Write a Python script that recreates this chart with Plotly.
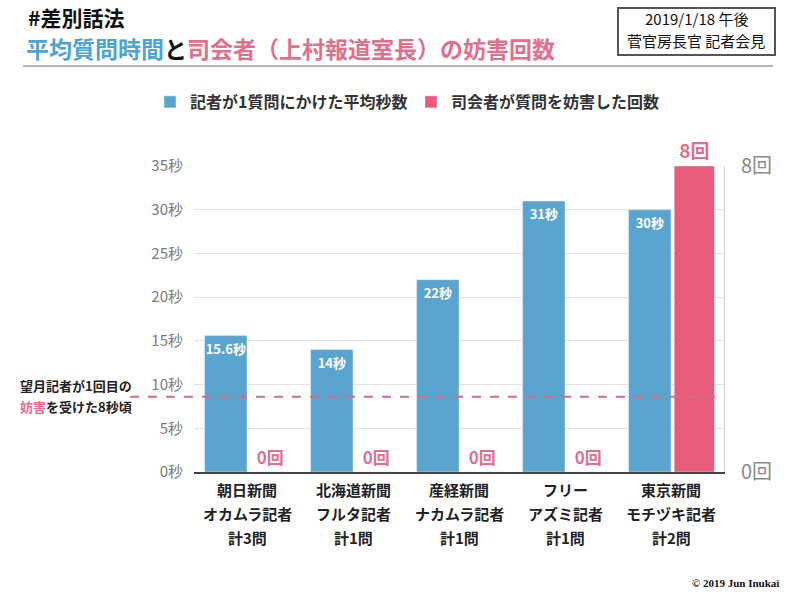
import plotly.graph_objects as go

# ---- data ----
newspapers = ["朝日新聞", "北海道新聞", "産経新聞", "フリー", "東京新聞"]
reporters = ["オカムラ記者", "フルタ記者", "ナカムラ記者", "アズミ記者", "モチヅキ記者"]
question_totals = ["計3問", "計1問", "計1問", "計1問", "計2問"]
avg_seconds = [15.6, 14, 22, 31, 30]
interruptions = [0, 0, 0, 0, 8]
first_interrupt_sec = 8.6

left_ticks = [0, 5, 10, 15, 20, 25, 30, 35]
right_ticks = [0, 8]

FONT = "Noto Sans CJK JP"
BLUE = "#5aa5cf"
PINK = "#e95b7b"
PINK_TXT = "#e0708d"
TITLE_BLUE = "#4fa3d1"

# plot area in pixels
L, R, T, B = 194, 724, 166, 472
W, H = R - L, B - T
def px(x):
    return (x - L) / W
def py(y):
    return (B - y) / H

cats = list(range(len(newspapers)))

fig = go.Figure()
fig.add_trace(go.Bar(
    x=cats, y=avg_seconds, name="<b>記者が1質問にかけた平均秒数</b>",
    marker_color=BLUE, width=0.4, offset=-0.4,
    text=[f"<b>{v}秒</b>" for v in avg_seconds], texttemplate="%{text}",
    textposition="inside", insidetextanchor="end", textangle=0,
    constraintext="none",
    insidetextfont=dict(color="white", size=13, family=FONT),
    yaxis="y", cliponaxis=False,
))
fig.add_trace(go.Bar(
    x=cats, y=interruptions, name="<b>司会者が質問を妨害した回数</b>",
    marker_color=PINK, width=0.38, offset=0.03,
    text=[f"<b>{v}回</b>" for v in interruptions], texttemplate="%{text}",
    textposition="outside", textangle=0, constraintext="none",
    outsidetextfont=dict(color=PINK_TXT, size=[17, 17, 17, 17, 19], family=FONT),
    yaxis="y2", cliponaxis=False,
))

annotations = []
# x category labels (three lines each)
for i in cats:
    for lines, yy in [(newspapers, 489), (reporters, 513), (question_totals, 537)]:
        annotations.append(dict(
            x=i, xref="x", y=py(yy), yref="paper", text=f"<b>{lines[i]}</b>",
            showarrow=False, xanchor="center", yanchor="middle",
            font=dict(family=FONT, size=15, color="#222"),
        ))

# titles
annotations += [
    dict(x=px(27), y=py(17), xref="paper", yref="paper", xanchor="left", yanchor="middle",
         text="<b>#差別話法</b>", showarrow=False, borderpad=0,
         font=dict(family=FONT, size=21, color="#111")),
    dict(x=px(25), y=py(48), xref="paper", yref="paper", xanchor="left", yanchor="middle",
         text=f"<b><span style='color:{TITLE_BLUE}'>平均質問時間</span>と<span style='color:{PINK_TXT}'>司会者（上村報道室長）の妨害回数</span></b>",
         showarrow=False, borderpad=0, font=dict(family=FONT, size=23, color="#111")),
    dict(x=px(696), y=py(19), xref="paper", yref="paper", xanchor="center", yanchor="middle",
         text="2019/1/18 午後", showarrow=False, font=dict(family=FONT, size=15, color="#111")),
    dict(x=px(696), y=py(41), xref="paper", yref="paper", xanchor="center", yanchor="middle",
         text="菅官房長官 記者会見", showarrow=False, font=dict(family=FONT, size=15, color="#111")),
    dict(x=px(18), y=py(385), xref="paper", yref="paper", xanchor="left", yanchor="middle",
         text="<b>望月記者が1回目の</b>", showarrow=False, font=dict(family=FONT, size=13, color="#222")),
    dict(x=px(18), y=py(406), xref="paper", yref="paper", xanchor="left", yanchor="middle",
         text=f"<b><span style='color:{PINK_TXT}'>妨害</span>を受けた8秒頃</b>", showarrow=False,
         font=dict(family=FONT, size=13, color="#222")),
    dict(x=px(781), y=py(583), xref="paper", yref="paper", xanchor="right", yanchor="middle",
         text="<b>© 2019 Jun Inukai</b>", showarrow=False,
         font=dict(family="Liberation Serif", size=11, color="#111")),
]

shapes = [
    # underline under title
    dict(type="line", xref="paper", yref="paper", x0=px(23), x1=px(773), y0=py(66), y1=py(66),
         line=dict(color="#b5b5b5", width=2)),
    # date box
    dict(type="rect", xref="paper", yref="paper", x0=px(618), x1=px(775), y0=py(8), y1=py(55),
         line=dict(color="#555", width=2)),
    # dashed reference line
    dict(type="line", xref="paper", yref="y", x0=px(130), x1=1, y0=first_interrupt_sec, y1=first_interrupt_sec,
         line=dict(color="#c9708e", width=2, dash="dash"), layer="above"),
]

fig.update_layout(
    width=800, height=600,
    margin=dict(l=L, r=800 - R, t=T, b=600 - B, pad=0),
    paper_bgcolor="white", plot_bgcolor="white",
    font=dict(family=FONT),
    barmode="overlay",
    showlegend=True,
    legend=dict(orientation="h", x=px(150), xanchor="left", y=py(102), yanchor="middle",
                font=dict(family=FONT, size=16, color="#333"), entrywidth=216, entrywidthmode="pixels",
                bgcolor="rgba(0,0,0,0)"),
    xaxis=dict(range=[-0.5, len(cats) - 0.5], showticklabels=False, showgrid=False,
               showline=True, linecolor="#444", linewidth=1.5, zeroline=False, fixedrange=True),
    yaxis=dict(range=[0, 35], tickvals=left_ticks, ticktext=[f"{v}秒" for v in left_ticks],
               showgrid=True, gridcolor="#e2e2e2", gridwidth=1, zeroline=False,
               showline=False, ticklabelstandoff=10,
               tickfont=dict(family=FONT, size=15, color="#7a7a7a")),
    yaxis2=dict(range=[0, 8], overlaying="y", side="right", tickvals=right_ticks,
                ticktext=[f"{v}回" for v in right_ticks], showgrid=False, zeroline=False,
                showline=True, linecolor="#d0d0d0", linewidth=1, ticklabelstandoff=12,
                tickfont=dict(family=FONT, size=20, color="#8a8a8a")),
    annotations=annotations,
    shapes=shapes,
)

fig.write_html("out.html", config={"displayModeBar": False},
               post_script="document.body.style.margin='0px';document.body.style.overflow='hidden';")
